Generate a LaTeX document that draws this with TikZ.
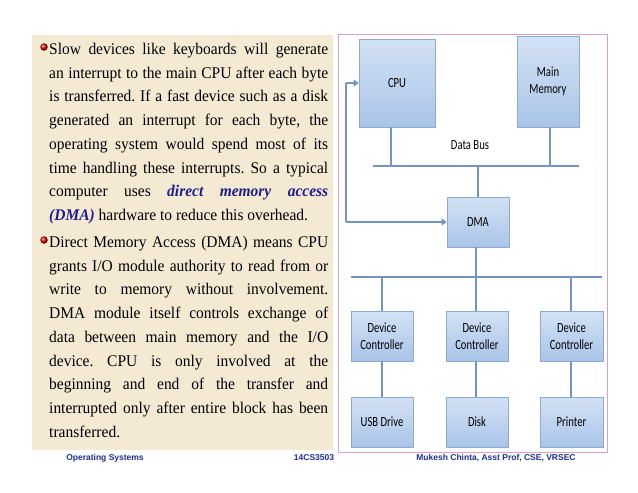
\documentclass[tikz,border=0pt]{standalone}
\usepackage{fontspec}
\setmainfont{Liberation Serif}[FakeStretch=0.95]
\newfontfamily\ftfont{Liberation Sans}
\newfontfamily\boxfont{Carlito}[FakeStretch=0.76]
\usetikzlibrary{arrows.meta}
\definecolor{beige}{HTML}{F4E9D3}
\definecolor{boxtop}{HTML}{D3E2F5}
\definecolor{boxbot}{HTML}{A9C4E8}
\definecolor{boxedge}{HTML}{8FAAD2}
\definecolor{busblue}{HTML}{7395BE}
\definecolor{frame}{HTML}{D9A3C9}
\definecolor{foot}{HTML}{1F2F99}
\definecolor{dmablue}{HTML}{1E1E8C}
\newcommand{\justln}[1]{\hbox to 279pt{#1}}
\newcommand{\lastln}[1]{\hbox to 279pt{#1\hfil}}
\frenchspacing
\tikzset{
  x=1pt,y=-1pt,
  blk/.style={draw=boxedge,line width=0.8pt,top color=boxtop,bottom color=boxbot,
    font=\boxfont\fontsize{14}{17.5}\selectfont,align=center,inner sep=0pt},
  bus/.style={draw=busblue,line width=2.2pt},
  stem/.style={draw=busblue,line width=1.6pt},
  arr/.style={draw=busblue,line width=1.8pt,-{Triangle[length=5pt,width=7pt]}},
  bul/.style={circle,inner sep=0pt,minimum size=7.5pt,ball color=red!85!black},
  footer/.style={font=\ftfont\bfseries\fontsize{8.5}{10}\selectfont,text=foot},
  para/.style={anchor=north west,inner sep=0pt,align=left,
    font=\fontsize{16.3}{23.7}\selectfont}
}
\begin{document}
\begin{tikzpicture}
\useasboundingbox (0,0) rectangle (638,493);
\fill[white] (0,0) rectangle (638,493);
% text panel
\fill[beige] (32,35) rectangle (333,450);
\node[bul] (b1) at (44,47) {};
\node[bul] (b2) at (44,240) {};
\node[para] (p1) at (49,43) {\justln{Slow devices like keyboards will generate}\\
\justln{an interrupt to the main CPU after each byte}\\
\justln{is transferred. If a fast device such as a disk}\\
\justln{generated an interrupt for each byte, the}\\
\justln{operating system would spend most of its}\\
\justln{time handling these interrupts. So a typical}\\
\justln{computer uses {\color{dmablue}\bfseries\itshape direct memory access}}\\
\lastln{{\color{dmablue}\bfseries\itshape (DMA)} hardware to reduce this overhead.}};
\node[para] (p2) at (49,236) {\justln{Direct Memory Access (DMA) means CPU}\\
\justln{grants I/O module authority to read from or}\\
\justln{write to memory without involvement.}\\
\justln{DMA module itself controls exchange of}\\
\justln{data between main memory and the I/O}\\
\justln{device. CPU is only involved at the}\\
\justln{beginning and end of the transfer and}\\
\justln{interrupted only after entire block has been}\\
\lastln{transferred.}};
% diagram frame
\draw[frame,line width=0.8pt] (338,34) rectangle (607,452);
% boxes
\node[blk,minimum width=76pt,minimum height=88pt] (cpu) at (397,83) {CPU};
\node[blk,minimum width=62pt,minimum height=91pt] (mem) at (548,81.5) {Main\\Memory};
\node[blk,minimum width=62pt,minimum height=50pt] (dma) at (478,222) {DMA};
\node[blk,minimum width=62pt,minimum height=50pt] (dc1) at (382,336) {Device\\Controller};
\node[blk,minimum width=62pt,minimum height=50pt] (dc2) at (477,336) {Device\\Controller};
\node[blk,minimum width=63pt,minimum height=50pt] (dc3) at (571.5,336) {Device\\Controller};
\node[blk,minimum width=62pt,minimum height=50pt] (usb) at (382,422) {USB Drive};
\node[blk,minimum width=62pt,minimum height=50pt] (disk) at (477,422) {Disk};
\node[blk,minimum width=63pt,minimum height=50pt] (prn) at (571.5,422) {Printer};
\node[font=\boxfont\fontsize{14}{17.5}\selectfont] (dbl) at (470,145) {Data Bus};
% buses
\coordinate (busL) at (373,166);
\coordinate (busR) at (579,166);
\coordinate (lbusL) at (351,277);
\coordinate (lbusR) at (602,277);
\draw[bus] (busL) -- (busR);
\draw[bus] (lbusL) -- (lbusR);
\draw[stem] (cpu.south -| 391,0) -- (391,166);
\draw[stem] (mem.south -| 550,0) -- (550,166);
\draw[stem] (478,166) -- (dma.north);
\draw[stem] (dma.south -| 476,0) -- (476,277);
\draw[stem] (382,277) -- (dc1.north);
\draw[stem] (476,277) -- (dc2.north -| 476,0);
\draw[stem] (571,277) -- (dc3.north -| 571,0);
\draw[stem] (dc1) -- (usb);
\draw[stem] (dc2.south -| 476,0) -- (disk.north -| 476,0);
\draw[stem] (dc3.south -| 571,0) -- (prn.north -| 571,0);
% arrows
\coordinate (cL) at (346,83);
\coordinate (dL) at (346,222);
\draw[stem] (cL) -- (dL);
\draw[arr] (cL) -- (cpu.west |- cL);
\draw[arr] (dL) -- (dma.west);
% footer
\node[footer] (f1) at (105,458) {Operating Systems};
\node[footer] (f2) at (314,458) {14CS3503};
\node[footer] (f3) at (496,458) {Mukesh Chinta, Asst Prof, CSE, VRSEC};
\end{tikzpicture}
\end{document}
